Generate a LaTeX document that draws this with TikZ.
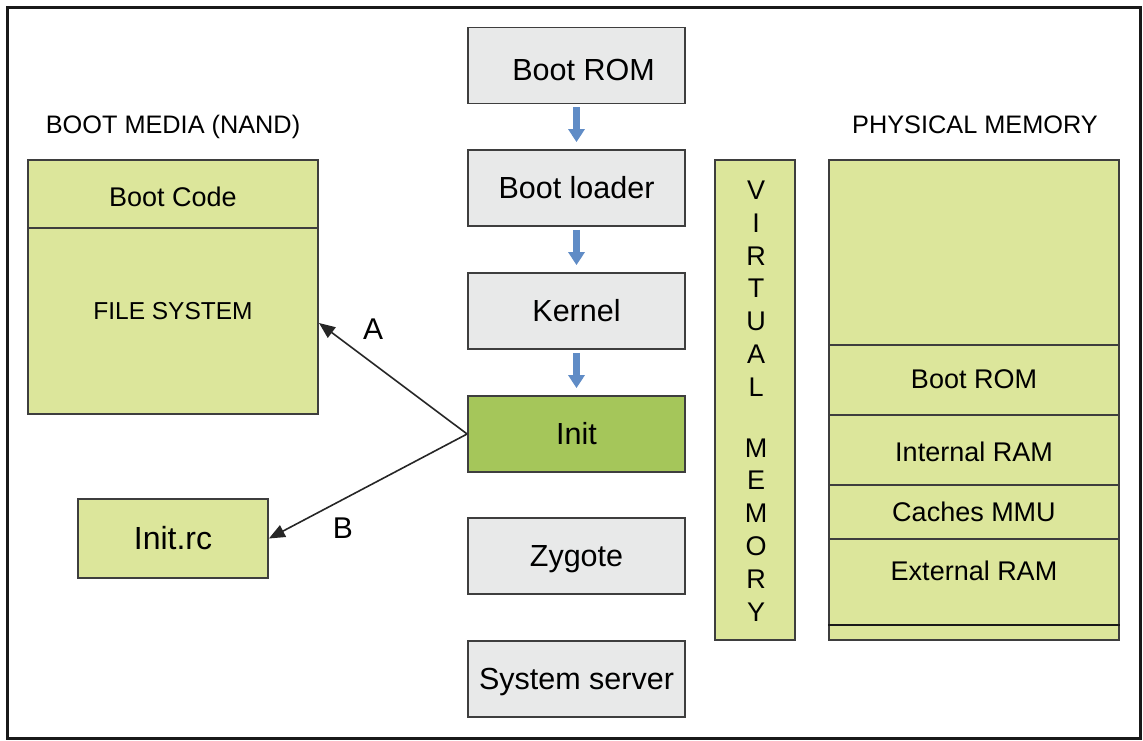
\documentclass[tikz,border=0pt]{standalone}
\usepackage{fontspec}
\setmainfont{Liberation Sans}
\usetikzlibrary{arrows.meta}

\definecolor{leaf}{RGB}{220,230,155}
\definecolor{initgreen}{RGB}{165,198,90}
\definecolor{stagegray}{RGB}{232,233,233}
\definecolor{edge}{RGB}{62,62,62}
\definecolor{flowblue}{RGB}{96,140,198}

\begin{document}
\begin{tikzpicture}[x=1pt,y=-1pt,
  box/.style={draw=edge, line width=1.8pt, rectangle, inner sep=0pt},
  capline/.style={text height=#1, text depth=0pt, inner sep=0pt},
  stage/.style={box, fill=stagegray, minimum width=217pt, minimum height=76pt,
    capline=21.8pt, font=\fontsize{30.5}{35}\selectfont},
  leafbox/.style={box, fill=leaf},
  label/.style={capline=19.3pt, font=\fontsize{27}{31}\selectfont},
  title/.style={capline=18.1pt, font=\fontsize{25.3}{29}\selectfont},
  letter/.style={capline=21.5pt, font=\fontsize{30}{34}\selectfont},
  flow/.style={draw=flowblue, line width=7pt,
    -{Triangle[width=16pt,length=13pt]}, shorten <=3pt, shorten >=7pt},
  link/.style={draw=black!85, line width=1.6pt,
    -{Triangle[width=13pt,length=16pt]}},
  divider/.style={draw=edge, line width=1.6pt}
]
\useasboundingbox (0,0) rectangle (1143,740);

% outer frame
\draw[line width=3pt, black!90] (7,7) rectangle (1140,738);

% boot sequence
\node[stage] (rom)    at (576.5,65.5) {\raisebox{-4pt}{\hspace{14pt}Boot ROM}};
\node[stage] (loader) at (576.5,188)  {Boot loader};
\node[stage] (kernel) at (576.5,311)  {Kernel};
\node[stage, fill=initgreen] (init) at (576.5,434) {Init};
\node[stage] (zygote) at (576.5,556)  {Zygote};
\node[stage] (server) at (576.5,679)  {System server};

\draw[flow] (rom) -- (loader);
\draw[flow] (loader) -- (kernel);
\draw[flow] (kernel) -- (init);

% boot media
\node[title] (mediatitle) at (173,124) {BOOT MEDIA (NAND)};
\node[leafbox, minimum width=290pt, minimum height=254pt] (media) at (173,287) {};
\draw[divider] (media.west |- 0,228) -- (media.east |- 0,228);
\node[label] (bootcode) at (173,197) {Boot Code};
\node[label, capline=17.5pt, font=\fontsize{24.5}{29}\selectfont] (fs) at (173,311) {FILE SYSTEM};
\coordinate (fsport) at (319,323);

\node[leafbox, minimum width=190pt, minimum height=79pt, capline=22.9pt,
  font=\fontsize{32}{36}\selectfont] (initrc) at (173,538.5) {Init.rc};

\draw[link] (init.west) -- (fsport);
\draw[link] (init.west) -- (initrc.east);
\node[letter] (la) at (373,329) {A};
\node[letter] (lb) at (343,528) {B};

% virtual memory
\node[leafbox, minimum width=80pt, minimum height=480pt] (vm) at (755,400) {};
\node[align=center, inner sep=0pt, font=\fontsize{27}{32.8}\selectfont] (vmtext) at (756,401)
  {V\\I\\R\\T\\U\\A\\L\\[28pt]M\\E\\M\\O\\R\\Y};

% physical memory
\node[title] (phystitle) at (975,124) {PHYSICAL MEMORY};
\node[leafbox, minimum width=290pt, minimum height=480pt] (phys) at (974,400) {};
\foreach \yy in {345,415,485,539}
  \draw[divider] (phys.west |- 0,\yy) -- (phys.east |- 0,\yy);
\draw[line width=2.2pt, black!90] (phys.west |- 0,625) -- (phys.east |- 0,625);
\node[label] (prom)   at (974,379) {Boot ROM};
\node[label] (iram)   at (974,452) {Internal RAM};
\node[label] (cache)  at (974,512) {Caches MMU};
\node[label] (eram)   at (974,571) {External RAM};
\end{tikzpicture}
\end{document}
